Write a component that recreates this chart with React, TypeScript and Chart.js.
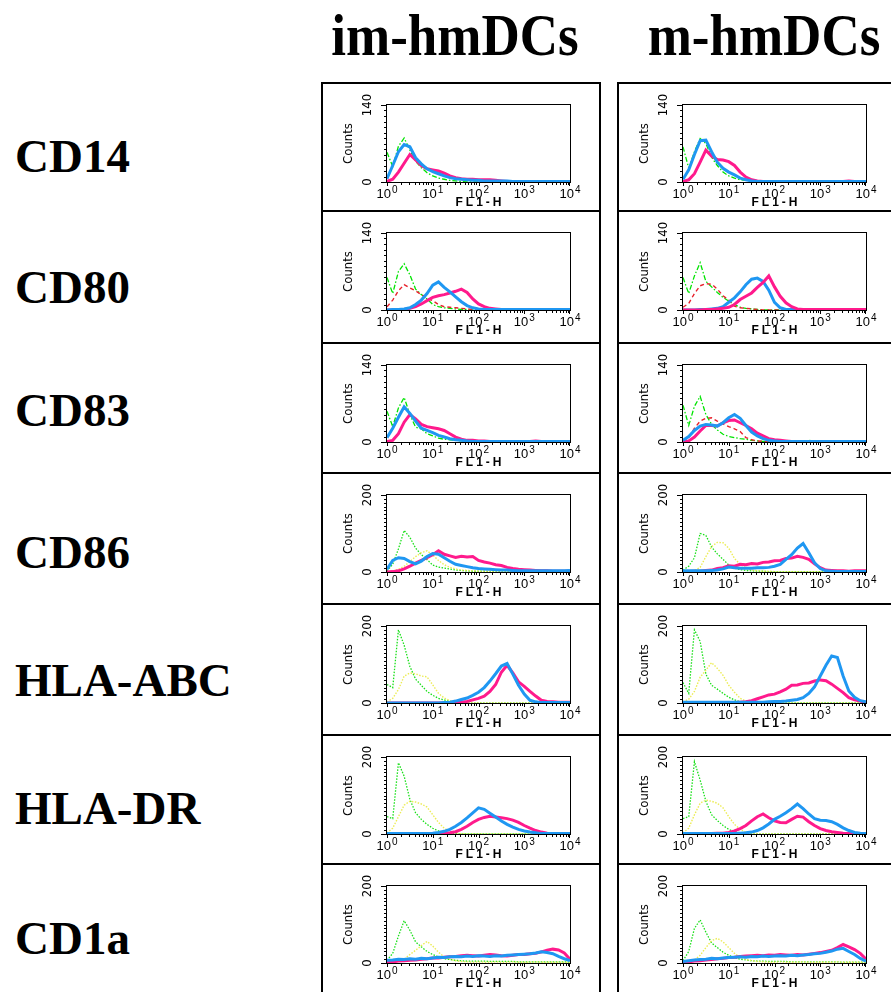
import React, { useEffect, useRef } from 'react';
import { Chart, registerables } from 'chart.js';

Chart.register(...registerables);

// ---------- data ----------
// FL1-H bin centres (1/8 decade)
const BINS = [1, 1.334, 1.778, 2.371, 3.162, 4.217, 5.623, 7.499, 10, 13.34, 17.78, 23.71, 31.62, 42.17, 56.23, 74.99, 100, 133.4, 177.8, 237.1, 316.2, 421.7, 562.3, 749.9, 1000, 1334, 1778, 2371, 3162, 4217, 5623, 7499, 10000];
const X_TICKS = [1, 10, 100, 1000, 10000];
const X_TICK_BASE = ['10', '10', '10', '10', '10'];
const X_TICK_EXP = ['0', '1', '2', '3', '4'];
const COLUMNS = ['im-hmDCs', 'm-hmDCs'];
const MARKERS = ['CD14', 'CD80', 'CD83', 'CD86', 'HLA-ABC', 'HLA-DR', 'CD1a'];
const Y_MAX = [140, 140, 140, 200, 200, 200, 200];

const CD14_IM_GREEN = [54, 28, 65, 80, 58, 38, 26, 17, 11, 7, 5, 3, 2, 1, 0, 0, 0, 0, 0, 0, 0, 0, 0, 0, 0, 0, 0, 0, 0, 0, 0, 0, 0];
const CD14_IM_MAGENTA = [1, 5, 18, 34, 50, 40, 30, 24, 22, 20, 16, 11, 8, 6, 5, 5, 4, 4, 4, 3, 2, 1, 1, 1, 1, 1, 1, 1, 1, 1, 1, 1, 1];
const CD14_IM_BLUE = [6, 30, 55, 68, 64, 44, 33, 24, 19, 15, 11, 8, 6, 5, 4, 3, 3, 2, 2, 2, 2, 2, 1, 1, 1, 1, 1, 1, 1, 1, 1, 1, 1];

const CD14_M_GREEN = [64, 25, 55, 79, 70, 45, 30, 18, 11, 7, 4, 3, 2, 1, 0, 0, 0, 0, 0, 0, 0, 0, 0, 0, 0, 0, 0, 0, 0, 0, 0, 0, 0];
const CD14_M_MAGENTA = [1, 4, 15, 36, 58, 47, 41, 40, 37, 30, 18, 9, 4, 2, 1, 1, 1, 1, 1, 1, 1, 1, 1, 1, 1, 1, 1, 1, 1, 2, 1, 1, 1];
const CD14_M_BLUE = [5, 22, 50, 75, 76, 55, 36, 25, 18, 13, 7, 4, 2, 1, 1, 1, 1, 1, 1, 1, 1, 1, 1, 1, 1, 1, 1, 1, 1, 1, 1, 1, 1];

const CD80_IM_GREEN = [59, 30, 70, 84, 64, 38, 28, 20, 10, 6, 4, 3, 2, 1, 1, 0, 0, 0, 0, 0, 0, 0, 0, 0, 0, 0, 0, 0, 0, 0, 0, 0, 0];
const CD80_IM_RED = [6, 18, 35, 46, 40, 35, 28, 22, 17, 10, 6, 5, 4, 3, 2, 1, 0, 0, 0, 0, 0, 0, 0, 0, 0, 0, 0, 0, 0, 0, 0, 0, 0];
const CD80_IM_MAGENTA = [0, 0, 1, 1, 3, 6, 11, 17, 23, 26, 28, 31, 34, 38, 32, 20, 11, 6, 3, 2, 1, 1, 1, 1, 1, 1, 1, 1, 1, 1, 1, 1, 1];
const CD80_IM_BLUE = [0, 1, 1, 2, 4, 10, 18, 30, 45, 51, 41, 33, 24, 15, 8, 4, 2, 1, 1, 1, 1, 1, 1, 1, 1, 1, 1, 1, 1, 1, 1, 1, 1];

const CD80_M_GREEN = [59, 30, 62, 86, 52, 42, 32, 23, 16, 10, 5, 3, 2, 1, 0, 0, 0, 0, 0, 0, 0, 0, 0, 0, 0, 0, 0, 0, 0, 0, 0, 0, 0];
const CD80_M_RED = [5, 12, 30, 44, 48, 47, 38, 26, 18, 7, 4, 3, 2, 1, 0, 0, 0, 0, 0, 0, 0, 0, 0, 0, 0, 0, 0, 0, 0, 0, 0, 0, 0];
const CD80_M_MAGENTA = [0, 0, 0, 0, 1, 1, 2, 3, 5, 10, 19, 25, 31, 41, 50, 62, 42, 25, 13, 6, 2, 1, 1, 1, 1, 1, 1, 1, 1, 1, 1, 1, 1];
const CD80_M_BLUE = [0, 0, 0, 1, 1, 2, 3, 6, 14, 22, 33, 46, 56, 58, 52, 36, 14, 4, 1, 1, 1, 1, 1, 1, 1, 1, 1, 1, 1, 1, 1, 1, 1];

const CD83_IM_GREEN = [56, 28, 62, 81, 50, 27, 24, 15, 11, 7, 5, 4, 3, 2, 1, 0, 0, 0, 0, 0, 0, 0, 0, 0, 0, 0, 0, 0, 0, 0, 0, 0, 0];
const CD83_IM_MAGENTA = [1, 3, 15, 36, 50, 42, 32, 28, 26, 24, 21, 15, 9, 5, 3, 3, 2, 2, 1, 1, 1, 1, 1, 1, 1, 1, 2, 1, 1, 1, 1, 1, 1];
const CD83_IM_BLUE = [8, 25, 45, 64, 52, 38, 25, 21, 17, 12, 9, 6, 4, 3, 2, 1, 1, 1, 1, 1, 1, 1, 1, 1, 1, 1, 1, 1, 1, 1, 1, 1, 1];

const CD83_M_GREEN = [67, 30, 65, 83, 50, 32, 22, 14, 10, 8, 6, 5, 3, 2, 1, 1, 1, 1, 1, 1, 1, 1, 3, 1, 0, 0, 0, 0, 0, 0, 0, 0, 0];
const CD83_M_RED = [3, 8, 25, 38, 43, 44, 38, 33, 28, 24, 19, 8, 4, 2, 1, 0, 0, 0, 0, 0, 0, 0, 0, 0, 0, 0, 0, 0, 0, 0, 0, 0, 0];
const CD83_M_MAGENTA = [1, 2, 9, 20, 30, 30, 29, 35, 39, 40, 35, 30, 24, 16, 11, 6, 4, 3, 2, 1, 1, 1, 1, 1, 1, 1, 1, 1, 1, 1, 1, 1, 1];
const CD83_M_BLUE = [3, 10, 21, 29, 32, 31, 29, 35, 44, 50, 43, 30, 18, 11, 6, 3, 2, 1, 1, 1, 1, 1, 1, 1, 1, 1, 1, 1, 1, 1, 1, 1, 1];

const CD86_IM_GREEN = [3, 20, 60, 108, 90, 62, 45, 32, 18, 13, 10, 8, 5, 4, 3, 2, 2, 2, 1, 1, 1, 1, 1, 1, 1, 0, 0, 0, 0, 0, 0, 0, 0];
const CD86_IM_YELLOW = [0, 2, 7, 15, 27, 40, 50, 55, 44, 30, 19, 12, 8, 5, 4, 3, 2, 2, 2, 2, 1, 1, 1, 1, 1, 0, 0, 0, 0, 0, 0, 0, 0];
const CD86_IM_MAGENTA = [0, 1, 3, 8, 15, 23, 30, 37, 45, 55, 46, 42, 38, 41, 39, 40, 30, 26, 23, 19, 17, 12, 9, 7, 6, 5, 4, 3, 3, 2, 2, 2, 2];
const CD86_IM_BLUE = [7, 30, 37, 35, 27, 21, 28, 40, 48, 46, 37, 28, 20, 17, 14, 11, 9, 8, 7, 6, 5, 5, 4, 3, 3, 3, 3, 3, 3, 3, 3, 3, 4];

const CD86_M_GREEN = [5, 15, 37, 100, 95, 65, 47, 33, 18, 10, 6, 4, 3, 2, 2, 1, 1, 1, 1, 1, 1, 1, 1, 1, 1, 0, 0, 0, 0, 0, 0, 0, 0];
const CD86_M_YELLOW = [0, 1, 4, 12, 40, 66, 77, 76, 62, 35, 20, 10, 5, 3, 2, 2, 1, 1, 1, 1, 1, 1, 1, 1, 0, 0, 0, 0, 0, 0, 0, 0, 0];
const CD86_M_MAGENTA = [0, 1, 2, 2, 4, 5, 9, 11, 16, 15, 20, 19, 22, 21, 25, 26, 29, 30, 35, 36, 41, 38, 33, 21, 11, 5, 4, 3, 3, 2, 3, 3, 3];
const CD86_M_BLUE = [3, 3, 3, 3, 3, 4, 5, 8, 13, 11, 10, 10, 10, 11, 11, 12, 15, 20, 33, 45, 62, 74, 50, 24, 9, 3, 2, 1, 1, 1, 1, 1, 1];

const HLA_ABC_IM_GREEN = [48, 40, 190, 150, 95, 62, 46, 30, 20, 12, 8, 4, 2, 1, 0, 0, 0, 0, 0, 0, 0, 0, 0, 0, 0, 0, 0, 0, 0, 0, 0, 0, 0];
const HLA_ABC_IM_YELLOW = [3, 12, 35, 70, 78, 76, 70, 68, 47, 25, 13, 6, 3, 2, 1, 0, 0, 0, 0, 0, 0, 0, 0, 0, 0, 0, 0, 0, 0, 0, 0, 0, 0];
const HLA_ABC_IM_MAGENTA = [0, 0, 0, 0, 0, 0, 0, 0, 0, 0, 0, 1, 1, 2, 4, 8, 12, 18, 30, 48, 80, 98, 78, 55, 43, 30, 18, 7, 4, 3, 2, 2, 2];
const HLA_ABC_IM_BLUE = [0, 0, 0, 0, 0, 0, 0, 0, 0, 0, 1, 2, 5, 9, 13, 20, 28, 40, 57, 76, 96, 103, 75, 46, 23, 7, 3, 1, 1, 1, 1, 1, 1];

const HLA_ABC_M_GREEN = [53, 25, 190, 160, 75, 46, 36, 25, 15, 8, 3, 2, 1, 0, 0, 0, 0, 0, 0, 0, 0, 0, 0, 0, 0, 0, 0, 0, 0, 0, 0, 0, 0];
const HLA_ABC_M_YELLOW = [3, 10, 30, 67, 85, 105, 90, 72, 46, 28, 12, 5, 2, 1, 0, 0, 0, 0, 0, 0, 0, 0, 0, 0, 0, 0, 0, 0, 0, 0, 0, 0, 0];
const HLA_ABC_M_MAGENTA = [0, 1, 0, 1, 1, 1, 1, 1, 1, 1, 2, 3, 6, 11, 16, 21, 23, 29, 36, 46, 47, 51, 52, 57, 60, 58, 49, 38, 27, 14, 8, 5, 1];
const HLA_ABC_M_BLUE = [2, 2, 2, 2, 2, 2, 2, 2, 2, 2, 2, 2, 2, 2, 2, 3, 4, 4, 5, 7, 9, 14, 25, 42, 70, 98, 122, 118, 70, 31, 15, 6, 3];

const HLA_DR_IM_GREEN = [45, 40, 185, 150, 90, 55, 38, 25, 15, 8, 4, 2, 1, 0, 0, 0, 0, 0, 0, 0, 0, 0, 0, 0, 0, 0, 0, 0, 0, 0, 0, 0, 0];
const HLA_DR_IM_YELLOW = [3, 15, 45, 75, 85, 83, 78, 70, 50, 30, 15, 7, 3, 1, 0, 0, 0, 0, 0, 0, 0, 0, 0, 0, 0, 0, 0, 0, 0, 0, 0, 0, 0];
const HLA_DR_IM_MAGENTA = [1, 1, 1, 1, 1, 1, 1, 1, 1, 1, 2, 3, 6, 12, 20, 30, 38, 43, 46, 44, 42, 40, 36, 30, 22, 15, 9, 5, 2, 1, 1, 1, 1];
const HLA_DR_IM_BLUE = [1, 1, 1, 1, 1, 1, 1, 1, 2, 4, 7, 12, 20, 30, 42, 55, 68, 64, 54, 44, 34, 25, 18, 12, 8, 5, 3, 1, 1, 1, 1, 1, 1];

const HLA_DR_M_GREEN = [40, 45, 188, 140, 85, 50, 35, 22, 12, 6, 3, 2, 1, 0, 0, 0, 0, 0, 0, 0, 0, 0, 0, 0, 0, 0, 0, 0, 0, 0, 0, 0, 0];
const HLA_DR_M_YELLOW = [3, 15, 50, 80, 88, 85, 80, 68, 45, 25, 12, 5, 2, 1, 0, 0, 0, 0, 0, 0, 0, 0, 0, 0, 0, 0, 0, 0, 0, 0, 0, 0, 0];
const HLA_DR_M_MAGENTA = [0, 1, 0, 1, 1, 1, 2, 2, 4, 8, 14, 22, 34, 45, 52, 42, 34, 30, 29, 38, 46, 44, 32, 22, 14, 9, 6, 4, 2, 1, 1, 1, 1];
const HLA_DR_M_BLUE = [1, 1, 1, 1, 1, 1, 1, 1, 1, 1, 2, 3, 5, 9, 16, 26, 38, 46, 55, 66, 78, 66, 52, 40, 36, 35, 32, 25, 16, 9, 4, 2, 1];

const CD1A_IM_GREEN = [7, 25, 70, 110, 85, 55, 42, 30, 22, 16, 11, 9, 7, 6, 5, 5, 5, 5, 4, 4, 4, 4, 4, 3, 3, 3, 3, 3, 3, 3, 3, 3, 2];
const CD1A_IM_YELLOW = [1, 2, 4, 10, 22, 33, 45, 56, 44, 28, 16, 10, 6, 4, 3, 2, 3, 2, 2, 3, 2, 2, 3, 2, 2, 2, 3, 2, 2, 2, 2, 2, 2];
const CD1A_IM_MAGENTA = [2, 3, 5, 6, 7, 8, 10, 11, 13, 13, 15, 16, 17, 19, 20, 19, 18, 20, 22, 21, 19, 18, 20, 22, 22, 24, 25, 29, 33, 36, 34, 26, 10];
const CD1A_IM_BLUE = [7, 8, 10, 9, 11, 10, 12, 11, 13, 15, 14, 16, 17, 16, 18, 17, 19, 18, 17, 19, 18, 20, 21, 22, 23, 24, 26, 29, 27, 24, 17, 11, 6];

const CD1A_M_GREEN = [6, 30, 90, 112, 80, 52, 40, 28, 20, 14, 10, 8, 6, 5, 5, 4, 4, 4, 4, 3, 3, 3, 3, 3, 3, 3, 3, 3, 2, 2, 2, 2, 2];
const CD1A_M_YELLOW = [1, 3, 8, 20, 40, 58, 64, 55, 40, 25, 14, 9, 6, 4, 3, 2, 2, 3, 2, 2, 2, 3, 2, 2, 2, 2, 2, 3, 2, 2, 2, 2, 2];
const CD1A_M_MAGENTA = [2, 3, 5, 6, 8, 9, 11, 12, 14, 15, 17, 18, 19, 20, 19, 21, 20, 22, 21, 20, 22, 21, 23, 25, 27, 30, 33, 40, 48, 42, 35, 25, 10];
const CD1A_M_BLUE = [4, 6, 8, 9, 10, 12, 11, 13, 14, 15, 16, 15, 17, 16, 18, 17, 18, 19, 18, 20, 19, 21, 22, 24, 25, 28, 31, 36, 38, 30, 22, 12, 5];

// ---------- styles / layout ----------
type Kind = 'greenDash' | 'greenDot' | 'red' | 'yellow' | 'magenta' | 'blue';
const STYLES: Record<Kind, { color: string; width: number; dash: number[] }> = {
  greenDash: { color: '#00e400', width: 1.3, dash: [5, 2, 1.5, 2] },
  greenDot: { color: '#18e018', width: 1.3, dash: [1.5, 1.5] },
  red: { color: '#e8202a', width: 1.4, dash: [4, 3] },
  yellow: { color: '#ecec55', width: 1.4, dash: [1.5, 1.5] },
  magenta: { color: '#ff1a8c', width: 3, dash: [] },
  blue: { color: '#1f97f2', width: 3, dash: [] },
};

interface PanelDef { row: number; col: number; series: [Kind, number[]][] }

const PANELS: PanelDef[] = [
  { row: 0, col: 0, series: [['blue', CD14_IM_BLUE], ['magenta', CD14_IM_MAGENTA], ['greenDash', CD14_IM_GREEN]] },
  { row: 0, col: 1, series: [['blue', CD14_M_BLUE], ['magenta', CD14_M_MAGENTA], ['greenDash', CD14_M_GREEN]] },
  { row: 1, col: 0, series: [['blue', CD80_IM_BLUE], ['magenta', CD80_IM_MAGENTA], ['red', CD80_IM_RED], ['greenDash', CD80_IM_GREEN]] },
  { row: 1, col: 1, series: [['magenta', CD80_M_MAGENTA], ['blue', CD80_M_BLUE], ['red', CD80_M_RED], ['greenDash', CD80_M_GREEN]] },
  { row: 2, col: 0, series: [['blue', CD83_IM_BLUE], ['magenta', CD83_IM_MAGENTA], ['greenDash', CD83_IM_GREEN]] },
  { row: 2, col: 1, series: [['blue', CD83_M_BLUE], ['magenta', CD83_M_MAGENTA], ['red', CD83_M_RED], ['greenDash', CD83_M_GREEN]] },
  { row: 3, col: 0, series: [['blue', CD86_IM_BLUE], ['magenta', CD86_IM_MAGENTA], ['yellow', CD86_IM_YELLOW], ['greenDot', CD86_IM_GREEN]] },
  { row: 3, col: 1, series: [['blue', CD86_M_BLUE], ['magenta', CD86_M_MAGENTA], ['yellow', CD86_M_YELLOW], ['greenDot', CD86_M_GREEN]] },
  { row: 4, col: 0, series: [['blue', HLA_ABC_IM_BLUE], ['magenta', HLA_ABC_IM_MAGENTA], ['yellow', HLA_ABC_IM_YELLOW], ['greenDot', HLA_ABC_IM_GREEN]] },
  { row: 4, col: 1, series: [['blue', HLA_ABC_M_BLUE], ['magenta', HLA_ABC_M_MAGENTA], ['yellow', HLA_ABC_M_YELLOW], ['greenDot', HLA_ABC_M_GREEN]] },
  { row: 5, col: 0, series: [['blue', HLA_DR_IM_BLUE], ['magenta', HLA_DR_IM_MAGENTA], ['yellow', HLA_DR_IM_YELLOW], ['greenDot', HLA_DR_IM_GREEN]] },
  { row: 5, col: 1, series: [['blue', HLA_DR_M_BLUE], ['magenta', HLA_DR_M_MAGENTA], ['yellow', HLA_DR_M_YELLOW], ['greenDot', HLA_DR_M_GREEN]] },
  { row: 6, col: 0, series: [['blue', CD1A_IM_BLUE], ['magenta', CD1A_IM_MAGENTA], ['yellow', CD1A_IM_YELLOW], ['greenDot', CD1A_IM_GREEN]] },
  { row: 6, col: 1, series: [['blue', CD1A_M_BLUE], ['magenta', CD1A_M_MAGENTA], ['yellow', CD1A_M_YELLOW], ['greenDot', CD1A_M_GREEN]] },
];

const ROW_TOPS = [82, 210, 342, 472, 603, 734, 863, 994];
const COL_LEFTS = [321, 617];
const CELL_W = 280;
const PLOT_TOP = 23;
const PLOT_H = 77;
const PLOT_LEFT = 66;
const PLOT_W = 183;
const ROW_LABEL_Y = [156, 287, 410, 552, 680, 808, 938];
const HEADER_X = [455, 764];

const SERIF = "'Liberation Serif', 'Times New Roman', serif";
const SANS = "'Liberation Sans', Arial, sans-serif";
const NARROW = "'Liberation Sans Narrow', 'DejaVu Sans Condensed', 'Liberation Sans', sans-serif";

function FacsPanel({ def }: { def: PanelDef }) {
  const ref = useRef<HTMLCanvasElement>(null);
  const top = ROW_TOPS[def.row];
  const h = ROW_TOPS[def.row + 1] - top;
  const left = COL_LEFTS[def.col];
  const yMax = Y_MAX[def.row];

  useEffect(() => {
    const canvas = ref.current;
    if (!canvas) return;
    const decor = {
      id: 'facsDecor',
      beforeDatasetsDraw(chart: any) {
        const { ctx, chartArea: a } = chart;
        ctx.save();
        ctx.strokeStyle = '#000';
        ctx.lineWidth = 1;
        ctx.strokeRect(Math.round(a.left) - 0.5, Math.round(a.top) - 0.5, Math.round(a.width) + 1, Math.round(a.height) + 1);
        ctx.restore();
      },
      afterDraw(chart: any) {
        const { ctx, chartArea: a, scales } = chart;
        const xs = scales.x;
        const ys = scales.y;
        ctx.save();
        ctx.strokeStyle = '#000';
        ctx.lineWidth = 1;
        ctx.beginPath();
        for (let d = 0; d < 4; d++) {
          for (let m = 1; m <= 9; m++) {
            const px = Math.round(xs.getPixelForValue(m * Math.pow(10, d))) + 0.5;
            const len = m === 1 ? 4 : 3;
            ctx.moveTo(px, a.bottom);
            ctx.lineTo(px, a.bottom + len);
          }
        }
        const pEnd = Math.round(xs.getPixelForValue(10000)) - 0.5;
        ctx.moveTo(pEnd, a.bottom);
        ctx.lineTo(pEnd, a.bottom + 4);
        for (let v = 0; v <= yMax; v += 10) {
          const py = Math.round(ys.getPixelForValue(v)) + 0.5;
          const len = v === 0 || v === yMax ? 6 : 3;
          ctx.moveTo(a.left - len, py);
          ctx.lineTo(a.left, py);
        }
        ctx.stroke();

        ctx.fillStyle = '#000';
        // y tick labels, rotated like the cytometer output
        ctx.font = `13px ${NARROW}`;
        ctx.textAlign = 'center';
        ctx.textBaseline = 'middle';
        for (const v of [0, yMax]) {
          ctx.save();
          ctx.translate(a.left - 19, ys.getPixelForValue(v));
          ctx.rotate(-Math.PI / 2);
          ctx.fillText(String(v), 0, 0);
          ctx.restore();
        }
        // x tick labels 10^n with raised exponent
        ctx.textAlign = 'left';
        ctx.textBaseline = 'alphabetic';
        const baseFont = `13px ${SANS}`;
        const expFont = `10px ${SANS}`;
        X_TICKS.forEach((v, i) => {
          const px = xs.getPixelForValue(v);
          ctx.font = baseFont;
          const wb = ctx.measureText(X_TICK_BASE[i]).width;
          ctx.font = expFont;
          const we = ctx.measureText(X_TICK_EXP[i]).width;
          const x0 = px - (wb + 1 + we) / 2;
          ctx.font = baseFont;
          ctx.fillText(X_TICK_BASE[i], x0, a.bottom + 15.5);
          ctx.font = expFont;
          ctx.fillText(X_TICK_EXP[i], x0 + wb + 1, a.bottom + 10.5);
        });
        // axis title
        ctx.textAlign = 'center';
        ctx.textBaseline = 'middle';
        ctx.font = `bold 12px ${SANS}`;
        if ('letterSpacing' in ctx) (ctx as any).letterSpacing = '3px';
        ctx.fillText('FL1-H', (a.left + a.right) / 2 + 1.5, a.bottom + 21);
        ctx.restore();
      },
    };

    const chart = new Chart(canvas, {
      type: 'line',
      data: {
        datasets: def.series.map(([kind, values]) => ({
          label: kind,
          data: BINS.map((x, i) => ({ x, y: values[i] })),
          borderColor: STYLES[kind].color,
          backgroundColor: STYLES[kind].color,
          borderWidth: STYLES[kind].width,
          borderDash: STYLES[kind].dash,
          pointRadius: 0,
          tension: 0,
          fill: false,
        })),
      },
      options: {
        animation: false,
        responsive: false,
        maintainAspectRatio: false,
        events: [],
        layout: { padding: { top: PLOT_TOP, right: CELL_W - PLOT_LEFT - PLOT_W, left: 0, bottom: 0 } },
        plugins: { legend: { display: false }, tooltip: { enabled: false } },
        scales: {
          x: {
            type: 'logarithmic',
            min: 1,
            max: 10000,
            grid: { display: false, drawTicks: false },
            border: { display: false },
            afterBuildTicks: (s: any) => {
              s.ticks = X_TICKS.map((v) => ({ value: v }));
            },
            afterFit: (s: any) => {
              s.height = h - PLOT_TOP - PLOT_H;
            },
            ticks: { display: false },
          },
          y: {
            type: 'linear',
            min: 0,
            max: yMax,
            grid: { display: false, drawTicks: false },
            border: { display: false },
            ticks: { display: false },
            afterFit: (s: any) => {
              s.width = PLOT_LEFT;
            },
            title: {
              display: true,
              text: 'Counts',
              color: '#000',
              font: { family: NARROW, size: 13 },
              padding: { top: 20, bottom: 0 },
            },
          },
        },
      } as any,
      plugins: [decor],
    });
    return () => chart.destroy();
  }, []);

  return (
    <canvas
      ref={ref}
      width={CELL_W}
      height={h}
      style={{ position: 'absolute', left, top, width: CELL_W, height: h }}
    />
  );
}

export default function App() {
  const cells: { r: number; c: number }[] = [];
  for (let r = 0; r < MARKERS.length; r++) for (let c = 0; c < COLUMNS.length; c++) cells.push({ r, c });
  return (
    <div style={{ position: 'absolute', left: 0, top: 0, width: 891, height: 992, overflow: 'hidden', background: '#fff' }}>
      {COLUMNS.map((c, i) => (
        <div
          key={c}
          style={{
            position: 'absolute', left: HEADER_X[i] - 200, top: 5, width: 400, height: 60, lineHeight: '60px',
            textAlign: 'center', fontFamily: SERIF, fontWeight: 'bold', fontSize: 53, whiteSpace: 'nowrap',
            transform: 'scaleY(1.12)', color: '#000',
          }}
        >
          {c}
        </div>
      ))}
      {MARKERS.map((m, i) => (
        <div
          key={m}
          style={{
            position: 'absolute', left: 15, top: ROW_LABEL_Y[i] - 30, height: 60, lineHeight: '60px',
            fontFamily: SERIF, fontWeight: 'bold', fontSize: 47, whiteSpace: 'nowrap', color: '#000',
          }}
        >
          {m}
        </div>
      ))}
      {cells.map(({ r, c }) => (
        <div
          key={`b${r}-${c}`}
          style={{
            position: 'absolute', left: COL_LEFTS[c], top: ROW_TOPS[r], width: CELL_W,
            height: ROW_TOPS[r + 1] - ROW_TOPS[r] + 2, border: '2px solid #000', boxSizing: 'border-box',
          }}
        />
      ))}
      {PANELS.map((p) => (
        <FacsPanel key={`p${p.row}-${p.col}`} def={p} />
      ))}
    </div>
  );
}
